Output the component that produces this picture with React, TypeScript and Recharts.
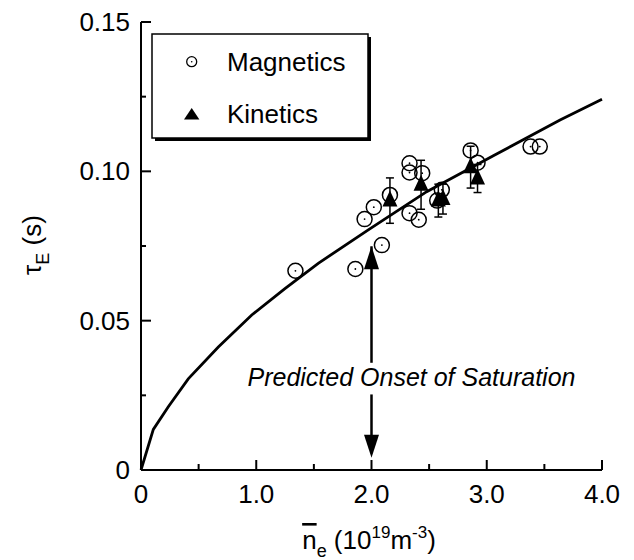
import { ComposedChart, Scatter, XAxis, YAxis, ErrorBar, ReferenceLine, ReferenceDot, Legend } from "recharts";

// Magnetics (open circles)
const magneticsDensity = [1.34, 1.86, 2.09, 1.94, 2.02, 2.16, 2.33, 2.33, 2.44, 2.33, 2.41, 2.61, 2.57, 2.86, 2.92, 3.38, 3.46];
const magneticsTau = [0.0667, 0.0673, 0.0753, 0.084, 0.088, 0.0921, 0.1027, 0.0996, 0.0994, 0.086, 0.0838, 0.0938, 0.0902, 0.107, 0.1029, 0.1083, 0.1083];

// Kinetics (filled triangles, with error bars)
const kineticsDensity = [2.16, 2.43, 2.58, 2.62, 2.86, 2.92];
const kineticsTau = [0.0902, 0.0955, 0.0902, 0.0907, 0.1014, 0.0976];
const kineticsErr = [0.0076, 0.0082, 0.0055, 0.005, 0.007, 0.0047];

// scaling curve
const fitDensity = [0, 0.107, 0.237, 0.41, 0.671, 0.961, 1.249, 1.538, 1.972, 2.479, 3.057, 3.636, 4.0];
const fitTau = [0, 0.0136, 0.0212, 0.0305, 0.0412, 0.0519, 0.0607, 0.0692, 0.0804, 0.0932, 0.1052, 0.1172, 0.1241];

const xTicks = [0, 0.5, 1, 1.5, 2, 2.5, 3, 3.5, 4];
const yTicks = [0, 0.025, 0.05, 0.075, 0.1, 0.125, 0.15];

// annotation arrow at the predicted onset
const onsetDensity = 2.0;
const arrowTop = 0.0749;
const arrowBottom = 0.0041;
const arrowGapTop = 0.0359;
const arrowGapBottom = 0.0253;
const onsetTextTau = 0.028;

const FONT = "'Liberation Sans', Arial, Helvetica, sans-serif";

const magnetics = magneticsDensity.map((x, i) => ({ x, y: magneticsTau[i] }));
const kinetics = kineticsDensity.map((x, i) => ({ x, y: kineticsTau[i], err: kineticsErr[i] }));
const fit = fitDensity.map((x, i) => ({ x, y: fitTau[i] }));

const xMajor = (v: number) => Number.isInteger(v);
const yMajor = (v: number) => Math.round(v * 1000) % 50 === 0;
const fmtX = (v: number) => (v === 0 ? "0" : v.toFixed(1));
const fmtY = (v: number) => (v === 0 ? "0" : v.toFixed(2));

const bottomTick = (p: any) => {
  const v = p.payload.value;
  const x = Number(p.x);
  const y = Number(p.y);
  return (
    <g key={`b${v}`}>
      <path d={`M${x},${y}V${y - (xMajor(v) ? 10 : 6)}`} stroke="#000" strokeWidth={2} fill="none" />
      {xMajor(v) && (
        <text x={x} y={y + 33} textAnchor="middle" fontSize={26} fontFamily={FONT} fill="#000">
          {fmtX(v)}
        </text>
      )}
    </g>
  );
};

const topTick = (p: any) => {
  const x = Number(p.x);
  const y = Number(p.y);
  return (
    <path key={`t${p.payload.value}`} d={`M${x},${y}V${y + (xMajor(p.payload.value) ? 10 : 6)}`} stroke="#000" strokeWidth={2} fill="none" />
  );
};

const leftTick = (p: any) => {
  const v = p.payload.value;
  const x = Number(p.x);
  const y = Number(p.y);
  return (
    <g key={`l${v}`}>
      <path d={`M${x},${y}H${x + (yMajor(v) ? 10 : 5)}`} stroke="#000" strokeWidth={2} fill="none" />
      {yMajor(v) && (
        <text x={x - 11} y={y + 9} textAnchor="end" fontSize={26} fontFamily={FONT} fill="#000">
          {fmtY(v)}
        </text>
      )}
    </g>
  );
};

const rightTick = (p: any) => {
  const x = Number(p.x);
  const y = Number(p.y);
  return (
    <path key={`r${p.payload.value}`} d={`M${x},${y}H${x - (yMajor(p.payload.value) ? 10 : 5)}`} stroke="#000" strokeWidth={2} fill="none" />
  );
};

const OpenCircle = ({ cx, cy }: any) => (
  <g>
    <circle cx={cx} cy={cy} r={7.5} fill="none" stroke="#000" strokeWidth={1.5} />
    <circle cx={cx} cy={cy} r={0.9} fill="#000" />
  </g>
);

const Triangle = ({ cx, cy }: any) => (
  <polygon points={`${cx},${cy - 10} ${cx - 7.5},${cy + 6} ${cx + 7.5},${cy + 6}`} fill="#000" />
);

const UpHead = ({ cx, cy }: any) => (
  <polygon points={`${cx},${cy} ${cx - 7.5},${cy + 23} ${cx + 7.5},${cy + 23}`} fill="#000" />
);

const DownHead = ({ cx, cy }: any) => (
  <polygon points={`${cx},${cy} ${cx - 7.5},${cy - 23} ${cx + 7.5},${cy - 23}`} fill="#000" />
);

const OnsetText = ({ cx, cy }: any) => (
  <text x={cx - 124} y={cy} fontSize={25} fontStyle="italic" fontFamily={FONT} fill="#000">
    Predicted Onset of Saturation
  </text>
);

const LegendBox = () => (
  <svg width={226} height={112}>
    <rect x={5} y={5} width={216} height={104} fill="#000" />
    <rect x={2} y={2} width={216} height={104} fill="#fff" stroke="#000" strokeWidth={1.5} />
    <circle cx={41.7} cy={29.7} r={5} fill="none" stroke="#000" strokeWidth={1.3} />
    <circle cx={41.7} cy={29.7} r={0.8} fill="#000" />
    <text x={77} y={38.7} fontSize={26} fontFamily={FONT} fill="#000">Magnetics</text>
    <polygon points="41.7,76 34,87.5 49.4,87.5" fill="#000" />
    <text x={77} y={91.3} fontSize={26} fontFamily={FONT} fill="#000">Kinetics</text>
  </svg>
);

const axisProps = {
  type: "number" as const,
  axisLine: { stroke: "#000", strokeWidth: 2 },
  tickLine: false,
  tickSize: 0,
  tickMargin: 0,
  interval: 0 as const,
};

export default function App() {
  return (
    <div style={{ position: "absolute", left: 0, top: 0 }}>
      <ComposedChart width={634} height={560} margin={{ top: 22, right: 32, bottom: 0, left: 0 }}>
        <XAxis {...axisProps} dataKey="x" domain={[0, 4]} ticks={xTicks} height={90} tick={bottomTick} />
        <XAxis {...axisProps} xAxisId="top" orientation="top" domain={[0, 4]} ticks={xTicks} height={0} tick={topTick} />
        <YAxis {...axisProps} dataKey="y" domain={[0, 0.15]} ticks={yTicks} width={141} tick={leftTick} />
        <YAxis {...axisProps} yAxisId="right" orientation="right" domain={[0, 0.15]} ticks={yTicks} width={0} tick={rightTick} />
        <Scatter
          data={fit}
          line={{ stroke: "#000", strokeWidth: 2.8 }}
          lineType="joint"
          shape={() => <g />}
          isAnimationActive={false}
        />
        <Scatter data={magnetics} shape={<OpenCircle />} isAnimationActive={false} />
        <Scatter data={kinetics} shape={<Triangle />} isAnimationActive={false}>
          <ErrorBar dataKey="err" direction="y" width={4} stroke="#000" strokeWidth={1.5} />
        </Scatter>
        <ReferenceLine
          segment={[{ x: onsetDensity, y: arrowTop }, { x: onsetDensity, y: arrowGapTop }]}
          stroke="#000"
          strokeWidth={2.5}
        />
        <ReferenceLine
          segment={[{ x: onsetDensity, y: arrowGapBottom }, { x: onsetDensity, y: arrowBottom + 0.004 }]}
          stroke="#000"
          strokeWidth={2.5}
        />
        <ReferenceDot x={onsetDensity} y={arrowTop} shape={<UpHead />} />
        <ReferenceDot x={onsetDensity} y={arrowBottom} shape={<DownHead />} />
        <ReferenceDot x={onsetDensity} y={onsetTextTau} shape={<OnsetText />} />
        <Legend
          layout="horizontal"
          verticalAlign="middle"
          align="center"
          content={() => <LegendBox />}
          wrapperStyle={{ left: 150, top: 32, width: 226, height: 112 }}
        />
      </ComposedChart>
      <svg width={634} height={560} style={{ position: "absolute", left: 0, top: 0, pointerEvents: "none" }}>
        <text transform="rotate(-90 41 245)" x={41} y={245} textAnchor="middle" fontSize={26} fontFamily={FONT} fill="#000">
          τ<tspan fontSize={18} dy={8}>E</tspan>
          <tspan dy={-8}> (s)</tspan>
        </text>
        <text x={369} y={549} textAnchor="middle" fontSize={26} fontFamily={FONT} fill="#000">
          <tspan style={{ textDecoration: "overline" }}>n</tspan>
          <tspan fontSize={18} dy={8}>e</tspan>
          <tspan dy={-8}> (10</tspan>
          <tspan fontSize={17} dy={-11}>19</tspan>
          <tspan dy={11}>m</tspan>
          <tspan fontSize={17} dy={-11}>-3</tspan>
          <tspan dy={11}>)</tspan>
        </text>
      </svg>
    </div>
  );
}
